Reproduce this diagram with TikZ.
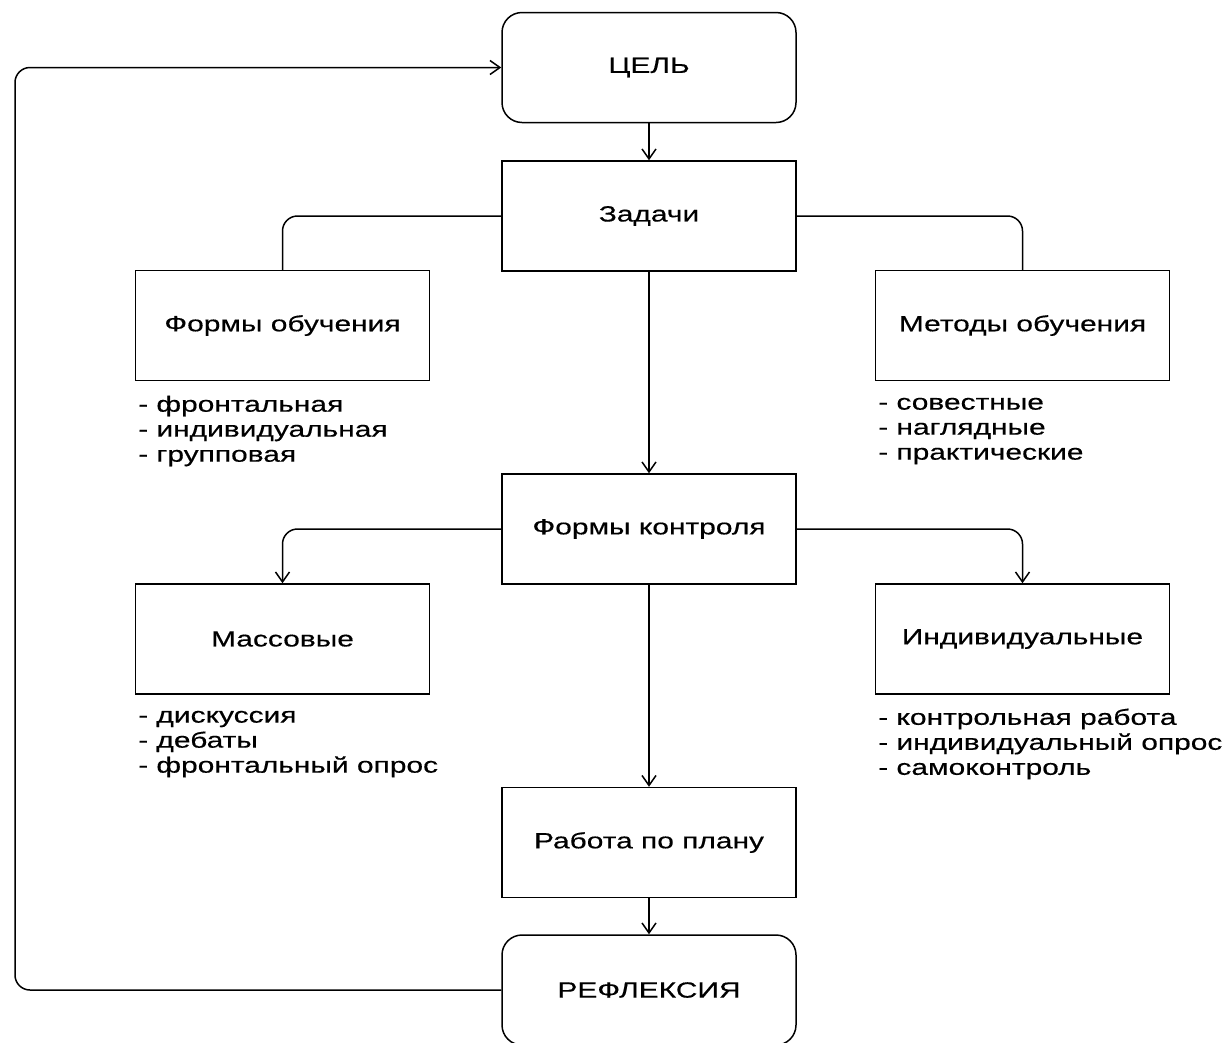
\documentclass[tikz,border=0pt]{standalone}
\usepackage{fontspec}
\setmainfont[FakeStretch=1.36,FakeBold=0.4]{Liberation Sans}
\usetikzlibrary{arrows.meta}
\tikzset{
  blk/.style={draw, line width=1.5pt, minimum width=294pt, minimum height=110pt, inner sep=0pt,
    font=\fontsize{22}{25}\selectfont},
  rblk/.style={blk, rounded corners=20pt},
  lst/.style={anchor=west, align=left, inner sep=0pt, font=\fontsize{22}{25}\selectfont},
  conn/.style={line width=1.5pt, rounded corners=15pt},
  arr/.style={conn, -{Straight Barb[length=10pt,width=14pt,line width=1.5pt]}}
}
\begin{document}
\begin{tikzpicture}[x=1pt,y=-1pt]
\useasboundingbox (0,0) rectangle (1228,1042);
\node[rblk] (cel) at (649,67.5) {\raisebox{-3pt}{ЦЕЛЬ}};
\node[blk] (zad) at (649,216) {\raisebox{-2pt}{Задачи}};
\node[blk] (fo) at (282.5,325.5) {\raisebox{-2pt}{Формы обучения}};
\node[blk] (mo) at (1022.5,325.5) {\raisebox{-2pt}{Методы обучения}};
\node[blk] (fk) at (649,529) {\raisebox{-2pt}{Формы контроля}};
\node[blk] (mas) at (282.5,639) {\raisebox{-2pt}{Массовые}};
\node[blk] (ind) at (1022.5,639) {\raisebox{-2pt}{Индивидуальные}};
\node[blk] (rab) at (649,842.5) {\raisebox{-2pt}{Работа по плану}};
\node[rblk] (ref) at (649,990) {\raisebox{-2pt}{РЕФЛЕКСИЯ}};
\node[lst] (l1) at (138,431) {- фронтальная\\- индивидуальная\\- групповая};
\node[lst] (l2) at (878,431) {- совестные\\- наглядные\\- практические};
\node[lst] (l3) at (138,744) {- дискуссия\\- дебаты\\- фронтальный опрос};
\node[lst] (l4) at (878,744) {- контрольная работа\\- индивидуальный опрос\\- самоконтроль};
\coordinate (lx) at (15,0);
\draw[arr] (cel) -- (zad);
\draw[conn] (zad.west) -| (fo.north);
\draw[conn] (zad.east) -| (mo.north);
\draw[arr] (zad) -- (fk);
\draw[arr] (fk.west) -| (mas.north);
\draw[arr] (fk.east) -| (ind.north);
\draw[arr] (fk) -- (rab);
\draw[arr] (rab) -- (ref);
\draw[arr] (ref.west) -- (ref.west -| lx) |- (cel.west);
\end{tikzpicture}
\end{document}
